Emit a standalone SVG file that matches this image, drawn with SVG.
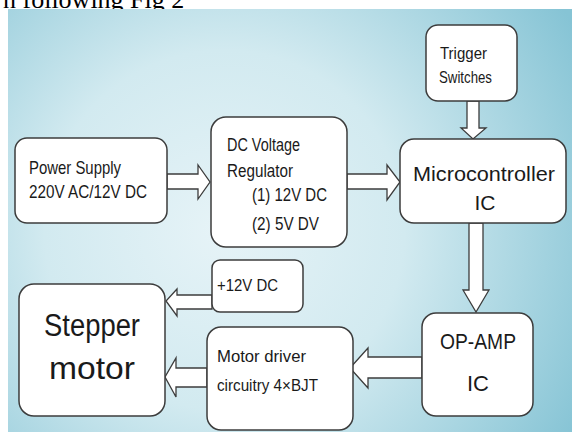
<svg xmlns="http://www.w3.org/2000/svg" width="572" height="432" viewBox="0 0 572 432">
<defs>
<radialGradient id="bg" gradientUnits="userSpaceOnUse" cx="230" cy="230" r="400" fx="220" fy="230">
<stop offset="0" stop-color="#e6f3f7"/>
<stop offset="0.45" stop-color="#d2eaf0"/>
<stop offset="1" stop-color="#86c4d5"/>
</radialGradient>
<style>
.box{fill:#ffffff;stroke:#3c3c3c;stroke-width:1.5}
.arr{fill:#ffffff;stroke:#3c3c3c;stroke-width:1.3;stroke-linejoin:miter}
.t{font-family:"Liberation Sans",Arial,sans-serif;fill:#1a1a1a}
</style>
</defs>
<rect x="0" y="0" width="572" height="432" fill="#ffffff"/>
<text x="3" y="8" font-family="Liberation Serif, Times New Roman, serif" font-size="26" fill="#000000">n following Fig 2</text>
<rect x="8" y="9" width="564" height="423" fill="url(#bg)"/>

<g id="connectors">
<polygon class="arr" points="167,174 198,174 198,165 210,182 198,199 198,189 167,189"/>
<polygon class="arr" points="347,174 387,174 387,165 400,182 387,200 387,189 347,189"/>
<polygon class="arr" points="467,101 479,101 479,128 486,128 473,139 461,128 467,128"/>
<polygon class="arr" points="469,223 483,223 483,290 489,290 476,312 463,290 469,290"/>
<polygon class="arr" points="422,357 368,357 368,348 350,368 368,388 368,378 422,378"/>
<polygon class="arr" points="212,295 177,295 177,289 166,301 177,316 177,309 212,309"/>
<polygon class="arr" points="207,368 176,368 176,358 165,377 176,397 176,387 207,387"/>
</g>

<g id="power-supply">
<rect class="box" x="15" y="138" width="152" height="85" rx="12"/>
<text class="t" x="29" y="174" font-size="19" textLength="92" lengthAdjust="spacingAndGlyphs">Power Supply</text>
<text class="t" x="29" y="198" font-size="19" textLength="118" lengthAdjust="spacingAndGlyphs">220V AC/12V DC</text>
</g>

<g id="dc-regulator">
<rect class="box" x="211" y="117" width="136" height="130" rx="15"/>
<text class="t" x="227" y="151" font-size="17.5" textLength="73" lengthAdjust="spacingAndGlyphs">DC Voltage</text>
<text class="t" x="227" y="177" font-size="17.5" textLength="66" lengthAdjust="spacingAndGlyphs">Regulator</text>
<text class="t" x="252" y="201" font-size="17.5" textLength="75" lengthAdjust="spacingAndGlyphs">(1) 12V DC</text>
<text class="t" x="252" y="230" font-size="17.5" textLength="67" lengthAdjust="spacingAndGlyphs">(2) 5V DV</text>
</g>

<g id="trigger-switches">
<rect class="box" x="426" y="25" width="91" height="76" rx="12"/>
<text class="t" x="440" y="59" font-size="17" textLength="47" lengthAdjust="spacingAndGlyphs">Trigger</text>
<text class="t" x="439" y="83" font-size="17" textLength="53" lengthAdjust="spacingAndGlyphs">Switches</text>
</g>

<g id="microcontroller">
<rect class="box" x="400" y="139" width="166" height="84" rx="14"/>
<text class="t" x="484" y="181" font-size="21" text-anchor="middle" textLength="142" lengthAdjust="spacingAndGlyphs">Microcontroller</text>
<text class="t" x="485" y="210" font-size="21" text-anchor="middle">IC</text>
</g>

<g id="op-amp">
<rect class="box" x="422" y="313" width="111" height="103" rx="14"/>
<text class="t" x="478" y="349" font-size="22" text-anchor="middle" textLength="76" lengthAdjust="spacingAndGlyphs">OP-AMP</text>
<text class="t" x="478" y="391" font-size="22" text-anchor="middle">IC</text>
</g>

<g id="plus12v">
<rect class="box" x="212" y="260" width="91" height="52" rx="8"/>
<text class="t" x="217" y="291" font-size="16" textLength="61" lengthAdjust="spacingAndGlyphs">+12V DC</text>
</g>

<g id="motor-driver">
<rect class="box" x="207" y="327" width="146" height="103" rx="14"/>
<text class="t" x="217" y="362" font-size="17" textLength="89" lengthAdjust="spacingAndGlyphs">Motor driver</text>
<text class="t" x="217" y="391" font-size="17" textLength="101" lengthAdjust="spacingAndGlyphs">circuitry 4×BJT</text>
</g>

<g id="stepper-motor">
<rect class="box" x="19" y="284" width="146" height="132" rx="15"/>
<text class="t" x="92" y="336" font-size="31" text-anchor="middle" textLength="96" lengthAdjust="spacingAndGlyphs">Stepper</text>
<text class="t" x="92" y="379" font-size="31" text-anchor="middle" textLength="86" lengthAdjust="spacingAndGlyphs">motor</text>
</g>
</svg>
